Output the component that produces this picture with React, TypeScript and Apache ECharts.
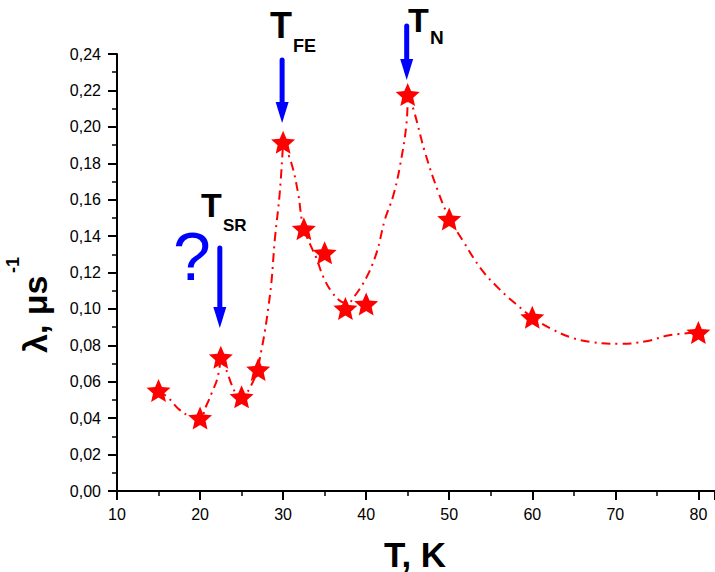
import React, { useEffect, useRef } from 'react';
import * as echarts from 'echarts';

// measured points (T in K, lambda in us^-1)
const temps = [15, 20, 22.5, 25, 27, 30, 32.5, 35, 37.5, 40, 45, 50, 60, 80];
const lambdas = [0.0552, 0.0401, 0.0735, 0.0517, 0.0667, 0.1915, 0.144, 0.1308, 0.1002, 0.1027, 0.2177, 0.1494, 0.0954, 0.0871];

// guide-to-the-eye curve, in four pieces
const fitAX = [15, 16.2, 17.5, 18.8, 20, 20.8, 21.4, 22.1, 22.5];
const fitAY = [0.0552, 0.0511, 0.0447, 0.0412, 0.0405, 0.0474, 0.0538, 0.0621, 0.0735];
const fitBX = [22.5, 23.3, 23.8, 24.4, 25, 25.5, 26.1, 26.8, 27.4, 27.8, 28.2, 28.6, 29.0, 29.6, 30];
const fitBY = [0.0735, 0.0648, 0.0584, 0.053, 0.051, 0.053, 0.0575, 0.0648, 0.0776, 0.0877, 0.1, 0.115, 0.138, 0.164, 0.1915];
const fitCX = [30, 31.0, 31.8, 32.4, 33.2, 34.0, 34.8, 35.8, 37.0, 37.8, 38.6, 40.0, 41.25, 42.25, 43.25, 44.05, 44.86, 45];
const fitCY = [0.1915, 0.18, 0.1637, 0.1454, 0.136, 0.128, 0.118, 0.1097, 0.104, 0.1033, 0.107, 0.117, 0.1308, 0.149, 0.162, 0.178, 0.202, 0.2177];
const fitDX = [45, 45.7, 47.1, 48.7, 50, 51.7, 53.9, 56.1, 58.1, 60, 62.5, 64.9, 67.3, 70.5, 73.7, 76.5, 80];
const fitDY = [0.2177, 0.2095, 0.1857, 0.164, 0.15, 0.137, 0.1216, 0.1106, 0.1024, 0.0954, 0.0886, 0.084, 0.0817, 0.0808, 0.0822, 0.0855, 0.0871];

// annotated transitions
const arrowTemps = [22.5, 30, 45];

const FONT = '"Liberation Sans", Arial, sans-serif';
const RED = '#ff0000';
const BLUE = '#0000ff';

function starPath(): string {
  const pts: string[] = [];
  for (let i = 0; i < 10; i++) {
    const r = i % 2 === 0 ? 50 : 23;
    const a = -Math.PI / 2 + (i * Math.PI) / 5;
    pts.push(`${(50 + r * Math.cos(a)).toFixed(2)} ${(50 + r * Math.sin(a)).toFixed(2)}`);
  }
  return 'path://M' + pts.join(' L') + ' Z';
}

function pairs(xs: number[], ys: number[]) {
  return xs.map((x, i) => [x, ys[i]]);
}

export default function App() {
  const ref = useRef<HTMLDivElement>(null);
  useEffect(() => {
    if (!ref.current) return;
    const chart = echarts.init(ref.current, undefined, { renderer: 'svg' });
    const fitLine = (xs: number[], ys: number[]) => ({
      type: 'line',
      data: pairs(xs, ys),
      showSymbol: false,
      smooth: 0.4,
      silent: true,
      z: 2,
      lineStyle: { color: RED, width: 2, type: [9, 5, 2, 5] },
    });
    chart.setOption({
      animation: false,
      grid: { left: 117, right: 0, top: 54, bottom: 81 },
      xAxis: {
        type: 'value',
        min: 10,
        max: 82,
        interval: 10,
        splitLine: { show: false },
        axisLine: { lineStyle: { color: '#000', width: 2 } },
        axisTick: { show: true, inside: false, length: 9, lineStyle: { color: '#000', width: 2 } },
        minorTick: { show: true, splitNumber: 2, length: 5, lineStyle: { color: '#000', width: 1.5 } },
        axisLabel: {
          margin: 15,
          fontFamily: FONT,
          fontSize: 16,
          color: '#000',
          showMaxLabel: false,
          formatter: (v: number) => (v % 10 === 0 ? String(v) : ''),
        },
      },
      yAxis: {
        type: 'value',
        min: 0,
        max: 0.24,
        interval: 0.02,
        splitLine: { show: false },
        axisLine: { lineStyle: { color: '#000', width: 2 } },
        axisTick: { show: true, inside: false, length: 9, lineStyle: { color: '#000', width: 2 } },
        minorTick: { show: true, splitNumber: 2, length: 5, lineStyle: { color: '#000', width: 1.5 } },
        axisLabel: {
          margin: 16,
          fontFamily: FONT,
          fontSize: 16,
          color: '#000',
          formatter: (v: number) => v.toFixed(2).replace('.', ','),
        },
      },
      series: [
        fitLine(fitAX, fitAY),
        fitLine(fitBX, fitBY),
        fitLine(fitCX, fitCY),
        fitLine(fitDX, fitDY),
        {
          type: 'scatter',
          data: pairs(temps, lambdas),
          symbol: starPath(),
          symbolSize: [24, 23],
          itemStyle: { color: RED, opacity: 1 },
          z: 5,
        },
      ],
    });

    const arrowTop = [248, 60, 26];
    const arrowTip = [328, 123, 80];
    const arrows: any[] = [];
    arrowTemps.forEach((t, i) => {
      const px = chart.convertToPixel({ gridIndex: 0 }, [t, 0])[0] - 1;
      const tip = arrowTip[i];
      const base = tip - 21;
      arrows.push({
        type: 'line',
        shape: { x1: px, y1: arrowTop[i], x2: px, y2: base + 2 },
        style: { stroke: BLUE, lineWidth: 5, lineCap: 'round' },
        z: 10,
      });
      arrows.push({
        type: 'polygon',
        shape: { points: [[px - 6.5, base], [px + 6.5, base], [px, tip]] },
        style: { fill: BLUE },
        z: 10,
      });
    });

    const txt = (text: string, x: number, y: number, size: number, opts: any = {}) => ({
      type: 'text',
      x,
      y,
      z: 10,
      style: {
        text,
        font: `${opts.weight ?? 'bold'} ${size}px ${FONT}`,
        fill: opts.fill ?? '#000',
        textAlign: opts.align ?? 'left',
        textVerticalAlign: opts.valign ?? 'middle',
      },
    });

    chart.setOption({
      graphic: [
        ...arrows,
        txt('T', 270, 25, 36),
        txt('FE', 293, 46, 18),
        txt('T', 408, 3, 34, { valign: 'top' }),
        txt('N', 430, 37, 19),
        txt('T', 201, 205, 34),
        txt('SR', 223, 225, 17),
        txt('?', 192, 256, 68, { weight: 'normal', fill: BLUE, align: 'center' }),
        txt('T, K', 415, 554, 35, { align: 'center' }),
        {
          type: 'group',
          x: 35,
          y: 353,
          rotation: Math.PI / 2,
          z: 10,
          children: [
            {
              type: 'text',
              x: 0,
              y: 0,
              style: { text: 'λ, μs', font: `bold 34px ${FONT}`, fill: '#000', textAlign: 'left', textVerticalAlign: 'middle' },
            },
            {
              type: 'text',
              x: 80,
              y: -22,
              style: { text: '-1', font: `bold 18px ${FONT}`, fill: '#000', textAlign: 'left', textVerticalAlign: 'middle' },
            },
          ],
        },
      ],
    });

    return () => chart.dispose();
  }, []);
  return (
    <div
      ref={ref}
      style={{ position: 'fixed', left: 0, top: 0, width: 715, height: 572, background: '#fff' }}
    />
  );
}
